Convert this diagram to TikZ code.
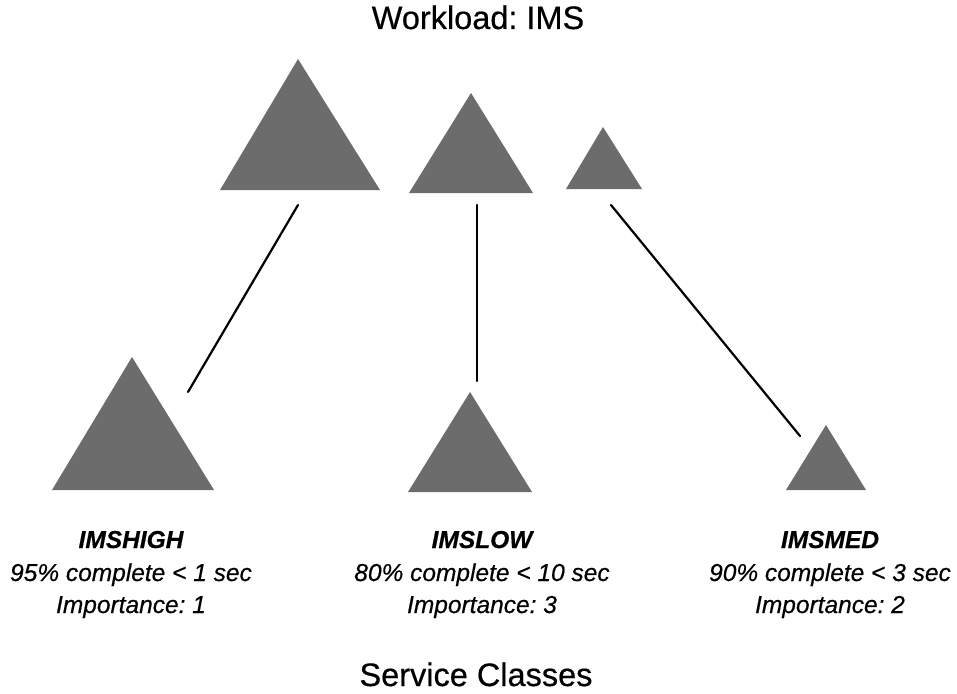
\documentclass[tikz,border=0pt]{standalone}
\usepackage{fontspec}
\setmainfont{Liberation Sans}[FakeBold=0.5]
\definecolor{trigray}{RGB}{108,108,108}
\tikzset{
  tri/.style={fill=trigray, draw=none},
  conn/.style={line width=2.2pt, line cap=round, black},
  lab/.style={font=\fontsize{24.5}{30}\selectfont\itshape, anchor=base, inner sep=0pt},
  labhead/.style={font=\fontsize{24.5}{30}\selectfont\bfseries\itshape, anchor=base, inner sep=0pt},
  big/.style={font=\fontsize{32.5}{38}\selectfont, anchor=base, inner sep=0pt}
}
\begin{document}
\frenchspacing
\begin{tikzpicture}[x=1pt,y=-1pt]
\useasboundingbox (0,0) rectangle (957,693);
% workload triangles
\fill[tri] (220,190) -- (298,59) -- (380,190) -- cycle;
\fill[tri] (409,193) -- (471,93) -- (533,193) -- cycle;
\fill[tri] (566,189) -- (603,127) -- (642,189) -- cycle;
% service class triangles
\fill[tri] (52,490) -- (132,357) -- (214,490) -- cycle;
\fill[tri] (408,492) -- (470,392) -- (532,492) -- cycle;
\fill[tri] (786,490) -- (826,425) -- (866,490) -- cycle;
% connector ends
\coordinate (t1) at (298,205);
\coordinate (b1) at (188,392);
\coordinate (t2) at (477,205);
\coordinate (b2) at (477,381);
\coordinate (t3) at (611,205);
\coordinate (b3) at (800,436);
\draw[conn] (t1) -- (b1);
\draw[conn] (t2) -- (b2);
\draw[conn] (t3) -- (b3);
% titles
\node[big] (title) at (478,29) {Workload: IMS};
\node[big] (footer) at (476,686) {Service Classes};
% labels
\node[labhead] (h1) at (131,548) {IMSHIGH};
\node[lab] (g1) at (131,581) {95\% complete < 1 sec};
\node[lab] (i1) at (131,613) {Importance: 1};
\node[labhead] (h2) at (482,548) {IMSLOW};
\node[lab] (g2) at (482,581) {80\% complete < 10 sec};
\node[lab] (i2) at (482,613) {Importance: 3};
\node[labhead] (h3) at (830,548) {IMSMED};
\node[lab] (g3) at (830,581) {90\% complete < 3 sec};
\node[lab] (i3) at (830,613) {Importance: 2};
\end{tikzpicture}
\end{document}
